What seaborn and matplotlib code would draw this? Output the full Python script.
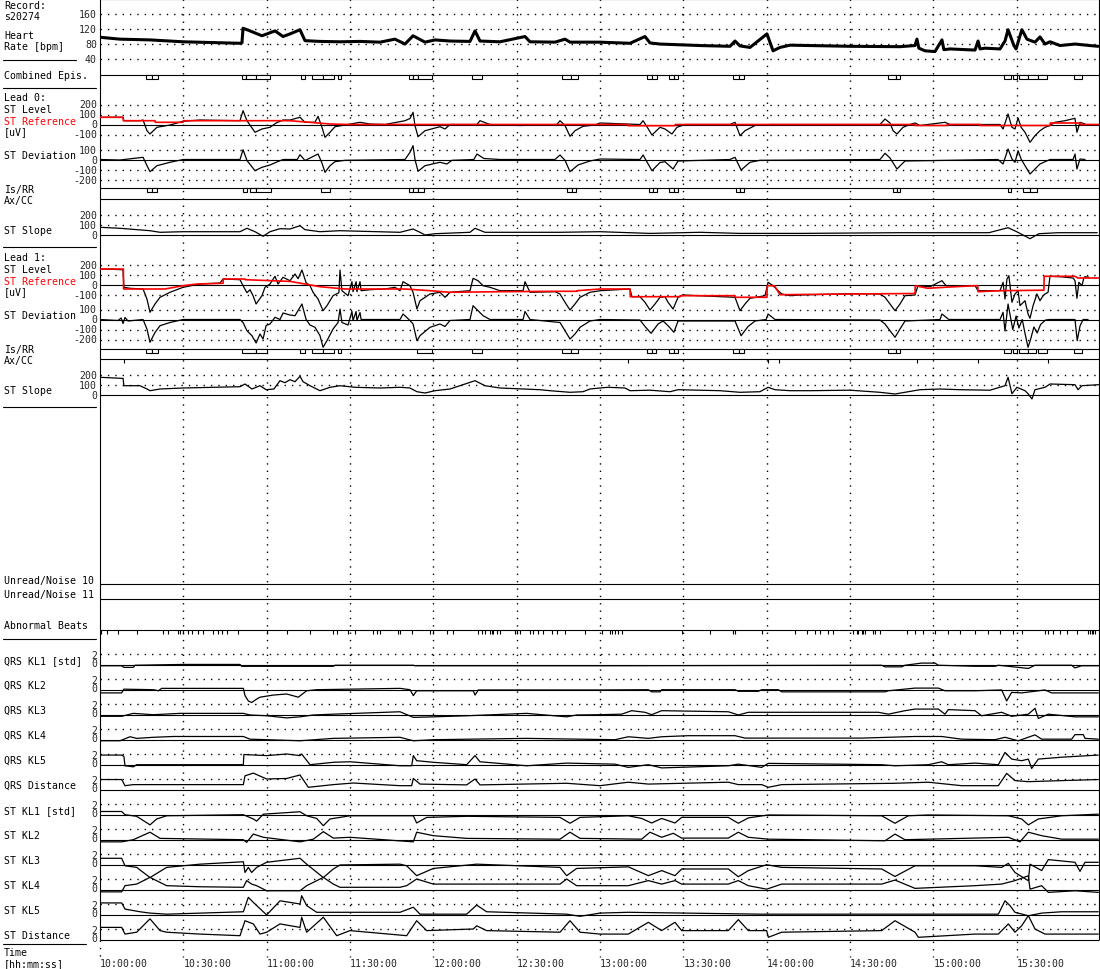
import matplotlib
matplotlib.use("Agg")
import matplotlib.pyplot as plt
import matplotlib.transforms as mtransforms
from matplotlib.lines import Line2D
from matplotlib.patches import Rectangle
import numpy as np
import seaborn as sns

# ──────────────────────────────────────────────────────────────────────────────
# Datos (tiempo en minutos desde las 10:00:00)
# ──────────────────────────────────────────────────────────────────────────────
RECORD = "s20274"
T_END = 359.64
TIME_TICKS = [0, 30, 60, 90, 120, 150, 180, 210, 240, 270, 300, 330]
TIME_LABELS = ["10:00:00", "10:30:00", "11:00:00", "11:30:00", "12:00:00", "12:30:00",
               "13:00:00", "13:30:00", "14:00:00", "14:30:00", "15:00:00", "15:30:00"]

hr_t = [0, 7.2, 18, 29.9, 50.4, 51.1, 51.5, 54, 58.3, 63, 65.9, 68.4, 72, 73.8, 79.2, 86.4,
        93.6, 100.8, 106.2, 109.8, 112.7, 117, 120.6, 126, 133.2, 135, 136.8, 144, 153, 154.8,
        163.8, 167.4, 169.2, 180, 190.8, 196.2, 198, 201.6, 216, 226.8, 228.6, 230.4, 234,
        240.1, 242.3, 244.8, 248.4, 255.6, 270, 288, 293.4, 294.1, 294.8, 297, 300.6, 303.1,
        303.8, 306, 315, 316.1, 316.8, 318.6, 324, 325.8, 326.9, 329, 329.8, 331.2, 331.9,
        333.7, 336.6, 338.4, 340.2, 342, 345.6, 351, 356.4, 359.3]
hr_v = [99, 94, 92, 87, 83, 84, 123, 116, 103, 116, 101, 108, 119, 90, 88, 87,
        88, 86, 94, 81, 103, 86, 92, 89, 88, 116, 89, 87, 101, 87,
        86, 94, 86, 86, 83, 101, 84, 81, 77, 75, 89, 76, 72,
        108, 63, 72, 78, 77, 75, 74, 77, 94, 70, 63, 61, 92,
        66, 68, 65, 89, 68, 70, 68, 89, 119, 77, 68, 103, 119,
        94, 86, 100, 81, 87, 77, 81, 77, 75]

combined_epis = [(16.6, 18.7), (18.7, 20.9), (51.1, 52.6), (52.6, 56.2), (56.2, 61.2),
                 (72.4, 73.8), (76.3, 80.3), (80.3, 84.2), (85.7, 86.8), (111.2, 112.7),
                 (112.7, 114.5), (114.5, 119.5), (133.9, 137.5), (166.3, 169.6), (169.6, 172.1),
                 (196.9, 198.7), (198.7, 200.5), (204.8, 206.6), (206.6, 208.1), (227.9, 230),
                 (230, 231.8), (283.7, 286.6), (286.6, 288), (325.4, 328), (328.7, 330.1),
                 (330.8, 334.1), (334.1, 337.7), (337.7, 340.9), (350.6, 353.5)]

# Lead 0
l0_level_t = [0, 8.3, 8.6, 14.4, 15.5, 16.9, 18, 20.5, 25.2, 29.9, 36, 50.4, 51.5, 52.9, 55.8,
              58.3, 61.2, 63.4, 65.9, 68.4, 72, 73.8, 77.4, 78.5, 79.9, 81, 82.8, 84.6, 88.2,
              93.6, 97.2, 102.6, 109.8, 111.6, 112.7, 113.4, 114.5, 117, 122.4, 124.2, 126,
              135.7, 136.8, 140.4, 151.2, 164.5, 165.6, 167.4, 169.2, 171, 173.9, 178.2, 180,
              194.4, 195.5, 197.3, 198.7, 201.6, 203.4, 205.9, 207.7, 210.6, 226.8, 228.6,
              229.7, 230.4, 232.2, 235.8, 241.2, 280.8, 282.6, 284.4, 285.5, 286.9, 289.1,
              291.6, 293.4, 295.2, 304.2, 306, 324, 325.1, 326.9, 328.3, 329.4, 330.5, 331.6,
              333, 334.8, 336.6, 338.4, 340.2, 342, 343.8, 347.4, 351, 351.7, 352.8, 354.6]
l0_level_v = [72, 72, 38, 38, 45, -62, -95, -28, -5, 32, 45, 38, 138, 38, -78,
              -45, -28, 15, 45, 45, 72, 22, 22, 82, -28, -128, -78, -22, -5,
              22, 5, 0, 38, 60, 122, -12, -122, -62, -22, -45, 0,
              0, 38, 0, -10, 0, 38, -10, -118, -62, -18, -5, 15,
              0, 38, -40, -105, -28, -45, -95, -28, 0, 0, 22,
              -60, -112, -62, -10, 0, 0, 55, 15, -62, -95, -28,
              0, 15, -10, 22, 0, 0, -45, 105, -28, -45, 65, -28,
              -78, -178, -112, -62, -28, -10, 22, 38, 62, -78, 22, 5]
l0_ref_t = [0, 8.3, 8.4, 19.8, 19.9, 29.9, 30, 68.4, 82.8, 90, 190, 190.1, 207, 207.1,
            293.4, 293.5, 305, 305.1, 316.8, 316.9, 342, 342.1, 352.8, 352.9, 359.6]
l0_ref_v = [72, 72, 38, 38, 22, 22, 38, 38, 5, 0, 0, -12, -12, 0,
            0, -10, -10, 0, 0, -10, -10, 15, 15, 0, 0]
l0_dev_t = [0, 7.2, 15.5, 16.9, 18, 20.5, 25.2, 29.9, 50.4, 51.5, 52.9, 55.8, 58.3, 61.2,
            63.4, 65.9, 71, 72, 73.8, 78.5, 79.9, 81, 82.8, 84.6, 88.2, 109.8, 111.6, 112.7,
            113.4, 114.5, 117, 122.4, 124.9, 126.7, 134.6, 135.7, 138.2, 144, 163.8, 165.6,
            167.4, 169.2, 172.1, 176.4, 180, 194.4, 195.5, 198.7, 201.6, 203.4, 206.3, 208.1,
            226.8, 228.6, 230.8, 234, 237.6, 280.8, 282.6, 284.4, 286.9, 289.8, 323.3, 325.1,
            326.9, 328.3, 329.4, 330.5, 331.6, 333, 334.8, 336.6, 338.4, 340.2, 342, 350.3,
            351, 351.7, 352.8, 354.6]
l0_dev_v = [0, -5, 22, -60, -122, -62, -28, 0, 0, 98, -10, -112, -78, -55,
            -28, 0, 0, 48, -10, 55, -35, -128, -62, -22, -8, 0, 72, 138,
            0, -118, -62, -28, -45, -8, 0, 55, 10, 0, 0, 45,
            -8, -122, -55, -15, 5, 0, 45, -112, -30, -22, -95, -15,
            0, 22, -105, -28, -8, 0, 62, 15, -95, -15, 0, -45,
            105, 5, -28, 88, 5, -62, -145, -95, -45, -22, 0, 0,
            55, -95, 5, 0]
l0_slope_t = [0, 7.2, 18, 21.6, 29.9, 50.4, 52.9, 55.8, 58.7, 61.2, 64.8, 68.4, 72, 73.8,
              79.2, 86.4, 108, 112.7, 115.2, 117, 120.6, 133.2, 135, 138.6, 165.6, 180, 198,
              216, 230.4, 252, 288, 320, 326.9, 330, 334.8, 338, 345, 359]
l0_slope_v = [74, 64, 40, 24, 30, 30, 64, 30, -16, 30, 60, 57, 90, 50,
              30, 40, 24, 57, 24, -3, 10, 24, 64, 24, 24, 30, 13,
              24, 13, 13, 20, 20, 70, 30, -40, 10, 20, 20]
l0_isrr = [(16.9, 18.7), (18.7, 20.5), (51.5, 52.9), (54, 56.2), (56.2, 61.6), (79.6, 82.8),
           (111.2, 112.7), (112.7, 114.5), (114.5, 116.6), (168.1, 169.9), (169.9, 171.4),
           (197.6, 199.1), (199.1, 200.5), (204.8, 206.6), (206.6, 208.1), (229, 230.4),
           (230.4, 231.8), (285.5, 286.9), (286.9, 288), (326.9, 328), (332.3, 334.8),
           (334.8, 337.3)]

# Lead 1
l1_level_t = [0, 8.3, 8.6, 10.8, 15.5, 16.9, 18, 19.8, 21.6, 25.2, 29.9, 36, 43.2, 44.3,
              50.4, 51.5, 52.9, 54, 55.1, 56.2, 58.3, 59.4, 61.2, 63, 64.1, 65.9, 68.4, 70.2,
              71.3, 72.7, 74.2, 75.6, 76.7, 78.5, 80.3, 81.7, 83.9, 86, 86.4, 87.1, 89.3,
              90.7, 91.1, 92.2, 92.5, 93.6, 94, 97.2, 102.6, 106.2, 108, 109.1, 111.6, 112.7,
              114.1, 115.2, 118.8, 122.4, 124.2, 126, 133.2, 134.3, 136.1, 137.9, 140.4, 144,
              152.3, 153, 154.8, 163.8, 165.6, 167.4, 169.2, 171, 172.8, 176.4, 180, 190.8,
              191.5, 194.4, 196.2, 198, 199.8, 201.6, 203.4, 204.5, 206.3, 208.1, 209.9, 228.6,
              230.4, 232.2, 234, 239.4, 240.5, 242.3, 244.1, 245.5, 248.4, 252, 270, 280.8,
              282.6, 284.4, 286.2, 288, 289.8, 293.4, 294.5, 298.8, 303.1, 304.6, 315, 316.1,
              324, 325.1, 325.8, 326.5, 327.2, 328.3, 329.4, 330.5, 331.2, 333, 334.1, 334.8,
              335.9, 337.3, 338.4, 339.5, 340.2, 341.3, 342, 345.6, 350.3, 351, 351.7, 352.4,
              353.5, 354.2, 354.6, 356]
l1_level_v = [157, 150, -26, -36, -43, -143, -276, -193, -126, -76, -26, 7, 17, 57,
              50, -10, -80, -50, -110, -193, -110, -26, 7, 84, 7, 74, 40, 107,
              60, 147, 20, -10, -76, -143, -260, -210, -110, -80, 147, -60, -110,
              30, -70, 30, -70, 30, -60, -50, -43, -26, -60, 30, -10, -76,
              -243, -160, -93, -76, -126, -76, -60, 64, 40, -10, -26, -60,
              -60, 30, -76, -70, -93, -176, -253, -193, -126, -76, -60, -43,
              -120, -120, -176, -253, -193, -126, -120, -176, -243, -126, -103, -126,
              -260, -193, -136, -110, 24, -10, -60, -93, -110, -103, -90, -93,
              -126, -193, -260, -193, -110, -103, -10, -20, 40, -10, -10, -60,
              -60, 24, -143, 57, 90, -176, -93, -60, -210, -160, -293, -336,
              -210, -93, -160, -110, -93, -76, 84, 80, 67, 40, -136, 24,
              -10, 70, 80, 75]
l1_ref_t = [0, 8.4, 8.5, 23.4, 29.9, 35, 44.3, 44.4, 52.2, 52.3, 68.4, 73.8, 79.2, 88.2,
            109.8, 118.8, 126, 144, 163.8, 171.7, 171.8, 180, 190.8, 190.9, 208.8, 208.9,
            228.6, 228.7, 240.1, 240.2, 242.8, 244.8, 270, 293.4, 293.5, 298, 304, 315,
            316, 316.1, 324, 339.8, 339.9, 351, 352, 359.6]
l1_ref_v = [157, 157, -43, -43, -10, 7, 14, 57, 57, 50, 33, 7, -20, -43,
            -43, -60, -76, -70, -66, -66, -60, -43, -43, -120, -120, -110,
            -110, -126, -126, -10, -10, -100, -93, -88, -10, -36, -26, -10,
            -10, -70, -60, -55, 84, 84, 67, 67]
l1_dev_t = [0, 6.5, 7.6, 8.3, 9, 10.1, 15.5, 16.9, 18, 19.8, 21.6, 25.2, 29.9, 50.4, 51.5,
            52.9, 54.7, 56.2, 57.6, 58.7, 59.8, 61.2, 63, 64.8, 65.9, 68.4, 70.2, 72.7, 74.2,
            75.6, 77.4, 79.2, 80.3, 81.7, 83.9, 85.7, 86.4, 87.1, 89.3, 90.7, 91.1, 92.2,
            92.5, 93.6, 94, 108, 109.1, 111.6, 112.7, 114.1, 115.2, 118.8, 122.4, 124.2, 126,
            133.2, 134.3, 136.1, 137.9, 140.4, 152.3, 153, 154.8, 165.6, 167.4, 169.2, 171,
            172.8, 176.4, 180, 194.4, 196.2, 198.4, 200.9, 202.7, 204.5, 206.6, 208.1, 228.6,
            230.8, 233.3, 235.8, 239.8, 240.5, 243, 280.8, 282.6, 284.4, 286.2, 288, 289.8,
            302.4, 303.1, 305.6, 324, 325.1, 325.8, 326.9, 328.6, 329.8, 330.8, 332, 333.2,
            334.1, 335, 336.2, 337.4, 338.6, 340.4, 342, 351, 351.8, 352.8, 353.9, 355.7]
l1_dev_v = [0, -10, 15, -40, 20, -15, 0, -95, -228, -130, -62, -30, 0, 0, -30,
            -112, -162, -235, -145, -195, -60, -45, 22, 0, 65, 45, 38, 155, 0,
            -55, -78, -162, -278, -212, -95, -30, 105, -30, -55, 80, -10, 80,
            -10, 70, 0, 0, 55, -10, -45, -212, -162, -78, -45, -70, -10,
            0, 138, 88, 38, 0, 0, 80, 0, -30, -112, -195, -145,
            -78, -15, 0, -5, -70, -138, -45, -15, -62, -128, -15, -15,
            -162, -70, -15, 0, 55, 0, -5, -45, -112, -178, -95, -15,
            0, 55, 0, 0, 72, -116, 155, -100, 35, -85, 0, -165,
            -278, -200, -75, -135, -50, -5, 0, 0, -212, -65, 0, 0]
l1_slope_t = [0, 8.3, 8.6, 14.4, 16.9, 18, 21.6, 29.9, 50.4, 52.2, 54.7, 57.6, 59.8, 62.6,
              64.8, 66.6, 68.4, 70.2, 72, 73.1, 75.6, 79.2, 82.8, 86.4, 91.8, 100.8, 108,
              111.6, 114.1, 117, 120.6, 126, 135, 138.6, 144, 158.4, 162, 169.2, 173.9, 176.4,
              180, 182.9, 189, 190.8, 198, 205.2, 208.1, 223.2, 230.4, 237.6, 240.5, 243,
              248.4, 255.6, 270, 280.8, 286.2, 295.2, 302.4, 309.6, 320.4, 325.8, 326.9,
              328.3, 330.1, 333, 334.1, 335.5, 336.6, 340.2, 342, 351, 352.1, 353.5, 359.5]
l1_slope_v = [174, 163, 90, 90, 57, 40, 57, 67, 80, 107, 57, 90, 50, 57,
              140, 120, 150, 130, 184, 130, 90, 40, 74, 90, 74, 67, 74,
              67, 30, 17, 40, 57, 140, 90, 67, 50, 40, 24, 30, 57,
              67, 74, 67, 40, 45, 30, 50, 40, 24, 30, 74, 50,
              40, 40, 45, 24, 7, 50, 57, 50, 45, 90, 174,
              10, 74, 40, 10, -43, 50, 74, 107, 100, 50, 90, 100]
l1_isrr = [(16.6, 18.7), (18.7, 20.9), (51.1, 56.2), (56.2, 60.1), (72, 73.8), (76.3, 80.3),
           (80.3, 84.2), (85.7, 86.8), (114.1, 119.5), (133.9, 137.5), (166.3, 169.6),
           (169.6, 172.1), (196.9, 198.7), (198.7, 200.2), (204.8, 206.6), (206.6, 208.1),
           (227.9, 230), (230, 231.8), (283.7, 286.6), (286.6, 288), (325.4, 328),
           (328.7, 330.1), (330.8, 334.1), (334.1, 337), (337.7, 340.9), (350.6, 353.5)]
l1_axcc = [8.6, 190.1, 240.5, 244.4, 294.1, 316.1, 341.3]

abnormal_beats = [0.4, 2.5, 6.5, 13.3, 22.7, 24.5, 28.1, 28.8, 29.9, 31.7, 33.1, 35.3, 37.1,
                  40.7, 42.5, 43.9, 45.7, 49.7, 60.1, 67.3, 75.6, 83.9, 85.3, 89.3, 91.8,
                  98.3, 99.7, 100.8, 107.3, 108, 112.3, 118.8, 119.9, 124.9, 127.1, 136.1,
                  137.5, 138.6, 140.4, 141.1, 141.5, 142.9, 144, 149.4, 150.1, 151.2, 154.8,
                  155.9, 157.7, 159.5, 162.7, 164.5, 167.4, 174.6, 180.7, 183.6, 184.3, 185.4,
                  186.5, 187.9, 209.5, 219.6, 227.9, 228.6, 238.3, 250.2, 254.5, 257.4, 259.2,
                  262.1, 263.9, 271.1, 272.5, 272.9, 274.3, 274.7, 275.4, 278.3, 279, 280.8,
                  290.5, 293.4, 296.3, 300.6, 305.3, 309.6, 315, 319.7, 324, 328.7, 331.9,
                  340.2, 341.3, 343.1, 345.6, 348.1, 351.7, 355.7, 356.4, 357.1, 357.5, 358.2]

# Karhunen-Loève coefficients [std]
qrs_kl1_t = [0, 7.8, 8.6, 12, 12.6, 30, 50.4, 51, 84, 84.6, 112.8, 113.4, 180, 281.4, 282.6,
             288.6, 289.8, 295.8, 300.6, 301.8, 315, 322.2, 323.4, 334.2, 336.6, 349.8, 351,
             353.4, 359.4]
qrs_kl1_v = [-0.2, -0.2, -0.5, -0.5, -0.1, 0.05, 0.05, -0.3, -0.3, -0.1, -0.1, -0.2, -0.2,
             -0.1, -0.4, -0.4, -0.1, 0.3, 0.3, -0.1, -0.3, -0.3, -0.1, -0.7, -0.1, -0.1, -0.6,
             -0.2, -0.2]
qrs_kl2_t = [0, 7.8, 8.6, 19.2, 21, 22.2, 51.6, 52.2, 53.4, 54.6, 56.4, 57.6, 62.4, 67.2,
             71.4, 74.4, 78, 108, 111.6, 112.8, 114, 134.4, 135, 136.2, 180, 197.4, 198.6,
             201.6, 202.2, 228.6, 229.8, 237, 238.2, 244.2, 245.4, 282.6, 283.8, 293.4, 301.8,
             304.2, 315, 324.6, 326.4, 328.2, 331.8, 340.2, 342.6, 359.4]
qrs_kl2_v = [-0.6, -0.6, 0.1, 0, -0.2, 0.25, 0.25, -1.1, -2.1, -2.4, -1.75, -1.4, -1.0, -0.8,
             -1.4, -0.2, 0, 0.25, 0, -1.1, -0.2, -0.2, -1.0, -0.05, -0.05, 0, -0.4,
             -0.4, 0, 0, -0.3, -0.3, 0, 0, -0.4, -0.4, -0.2, 0.3, 0.3,
             -0.2, -0.2, -0.05, -2.1, -0.5, -0.6, -0.05, -0.6, -0.6]
qrs_kl3_t = [0, 7.8, 12, 19.2, 28.8, 51.6, 54, 60, 67.2, 72, 76.8, 84, 108, 112.8, 120, 132,
             153.6, 168, 171.6, 180, 187.8, 191.4, 196.2, 198.6, 202.2, 226.2, 229.8, 233.4,
             280.2, 283.8, 289.8, 293.4, 301.8, 304.2, 305.4, 315, 317.4, 324.6, 328.2, 334.2,
             336.6, 337.8, 341.4, 351, 359.4]
qrs_kl3_v = [-0.3, -0.3, 0.25, 0, 0.25, 0.25, -0.05, -0.2, -0.6, -0.4, -0.05, 0.1, 0.55, -0.5,
             -0.4, -0.2, 0.25, -0.4, -0.05, 0, 0.1, 0.75, 0.45, 0, 0.75, 0.55, -0.05, 0.45,
             0.45, 0.1, 0.75, 1.05, 1.05, 0.1, 0.95, 0.75, -0.2, 0.45, -0.3, 0.1,
             1.2, -0.7, 0.1, -0.4, -0.4]
qrs_kl4_t = [0, 7.2, 10.8, 13.2, 19.2, 26.4, 51.6, 54, 72, 84, 108, 112.8, 120, 153.6, 185.4,
             190.2, 197.4, 202.2, 211.8, 228.6, 232.2, 274.2, 293.4, 303, 310.2, 322.2, 325.8,
             330.6, 336.6, 339, 349.8, 351, 354, 354.6, 359.4]
qrs_kl4_v = [-0.2, -0.2, 0.55, 0.25, 0.45, 0.6, 0.6, 0.1, -0.2, 0.25, 0.45, -0.2, 0, 0.25, 0,
             0.55, 0.25, 0.55, 0.75, 0.75, 0.3, 0.3, 0.6, 0.6, 0.1, 0, 0.45,
             -0.2, 0.9, 0.1, 0.1, 0.95, 0.95, 0.25, 0.1]
qrs_kl5_t = [0, 7.8, 8.6, 9, 12, 13.2, 51.6, 51.8, 60, 67.2, 72, 72.6, 75.6, 84, 90, 96, 108,
             112.2, 112.8, 114, 120, 132, 135, 136.8, 153.6, 168, 185.4, 190.2, 197.4, 202.2,
             226.2, 229.8, 238.2, 240.6, 281.4, 286.2, 298.2, 303, 305.4, 315, 323.4, 325.8,
             328.2, 331.8, 334.2, 335.4, 337.8, 346.2, 359.4]
qrs_kl5_v = [1.8, 1.8, 1.55, -0.2, -0.4, 0, 0, 1.9, 1.7, 2.0, 1.7, 2.0, 0, 0.45, 0.55, 0.3, -0.2,
             -0.2, 1.7, 0.75, 0.45, 0, 1.7, 0.55, -0.2, 0.3, 0.1, -0.5, 0, -0.6,
             -0.2, 0.1, -0.5, 0.25, 0, -0.2, 0, 0.55, 0, 0.3, 0, 2.3,
             1.05, 0.75, 1.05, -0.7, 1.05, 1.4, 1.8]
qrs_dist_t = [0, 7.8, 9, 12, 51.6, 52.2, 55.2, 60, 67.2, 72, 75, 84, 91.2, 108, 112.2, 112.8,
              115.2, 132, 135, 136.8, 168, 180, 190.2, 197.4, 226.2, 229.8, 238.2, 240.6,
              245.4, 286.2, 298.2, 310.2, 323.4, 326.4, 329.4, 334.2, 346.2, 359.4]
qrs_dist_v = [1.9, 1.9, 0.75, 0.95, 0.95, 2.6, 3.1, 2.0, 2.1, 2.75, 0.45, 0.95, 1.25, 0.75,
              0.75, 2.1, 1.05, 0.9, 2.0, 0.9, 1.2, 0.75, 1.4, 1.05, 1.4, 0.95, 0.95, 0.45,
              0.95, 1.2, 1.4, 0.75, 0.75, 3.05, 1.7, 1.5, 1.7, 1.9]
st_kl1_t = [0, 7.8, 9, 13.2, 18, 20.4, 24, 51.6, 55.2, 56.4, 58.8, 72, 74.4, 78, 80.4, 82.8,
            90, 112.8, 114, 117.6, 132, 165.6, 169.2, 172.8, 190.2, 195, 198.6, 202.2, 207,
            209.4, 226.2, 229.8, 233.4, 240.6, 281.4, 286.2, 291, 298.2, 327, 331.8, 334.2,
            337.8, 346.2, 359.4]
st_kl1_v = [0.6, 0.6, 0, -0.3, -1.9, -0.8, -0.2, 0, -0.8, -1.2, 0.1, 0.55, -0.2, -0.7, -2.05,
            -0.8, -0.2, -0.2, -1.55, -0.5, -0.3, -0.5, -1.6, -0.5, -0.2, -0.7, -1.55, -0.7,
            -1.55, -0.5, -0.5, -1.6, -0.6, -0.05, -0.2, -1.6, -0.2, -0.05, -0.2, -0.8, -1.9,
            -0.8, -0.2, 0.1]
st_kl2_t = [0, 7.8, 12, 18, 21.6, 51.6, 52.8, 55.2, 58.8, 72, 76.8, 80.4, 84, 90, 112.8, 114,
            120, 132, 165.6, 169.2, 172.8, 195, 198, 202.2, 206.4, 209.4, 226.2, 229.8, 233.4,
            240.6, 282.6, 286.2, 289.8, 327, 331.2, 334.2, 339, 346.2, 359.4]
st_kl2_v = [-0.4, -0.4, 0, 1.4, 0.25, 0, -0.5, 1.05, 0.45, -0.4, 0.1, 1.5, 0.3, 0.45, -0.4,
            1.4, 0.75, 0.25, 0.1, 1.4, 0.25, 0.1, 1.4, 0.45, 1.2, 0.3, 0.3, 1.4, 0.45,
            0.1, -0.2, 1.05, 0, 0.45, -0.4, 1.4, 0.75, 0.1, 0.1]
st_kl3_t = [0, 7.8, 9, 13.2, 18, 24, 36, 51.6, 52.2, 53.4, 54.6, 56.4, 60, 72, 74.4, 80.4, 84,
            86.4, 108, 110.4, 114, 120, 135.6, 165.6, 168, 171.6, 190.2, 197.4, 202.2, 207,
            209.4, 226.2, 229.8, 233.4, 240, 245.4, 281.4, 286.2, 293.4, 315, 324.6, 327,
            329.4, 334.2, 334.8, 339, 341.4, 351, 352.8, 354.6, 359.4]
st_kl3_v = [1.2, 1.2, -0.2, -0.5, -2.4, -0.5, 0.1, 0.55, -1.45, -0.5, -1.45, -0.5, 0.45, 1.2,
            0.1, -2.4, -0.8, -0.05, 0.1, -0.2, -2.05, -0.7, 0.1, -0.5, -2.05, -0.7, -0.4,
            -2.05, -1.1, -2.05, -0.8, -0.8, -2.25, -1.1, 0, -0.5, -0.8, -2.2, -0.2, -0.2,
            -0.5, 0.25, -1.45, -3.0, 0.1, -1.1, 0.95, 0.45, -1.25, 0.45, 0.45]
st_kl4_t = [0, 7.8, 9, 13.2, 18, 24, 36, 51.6, 52.8, 54.6, 56.4, 60, 72, 74.4, 80.4, 84, 86.4,
            108, 110.4, 114, 120, 135.6, 165.6, 168, 171.6, 190.2, 197.4, 202.2, 207, 209.4,
            226.2, 229.8, 233.4, 240, 245.4, 281.4, 286.2, 293.4, 315, 324.6, 329.4, 334.2,
            334.8, 339, 341.4, 351, 359.4]
st_kl4_v = [-0.4, -0.4, 0.75, 1.05, 2.3, 0.75, 0.55, 0.45, 1.7, 1.05, 0.75, -0.2, -0.2, 0.75,
            2.3, 1.05, 0.45, 0.45, 0.75, 2.0, 1.05, 1.05, 1.05, 2.0, 0.75, 0.75, 1.7, 1.05,
            1.7, 1.05, 1.05, 1.7, 0.75, 0.1, 1.05, 1.05, 1.8, 0.25, 0.75, 1.05, 1.7, 2.6,
            0.1, 0.75, -0.5, -0.2, -0.5]
st_kl5_t = [0, 7.8, 9, 14.4, 18, 24, 51.6, 53.4, 55.2, 60, 64.8, 72, 72.6, 74.4, 78, 108,
            112.8, 115.2, 132, 135.6, 139.2, 168, 172.8, 180, 190.2, 238.2, 298.2, 323.4,
            325.8, 327.6, 329.4, 334.2, 339, 346.2, 359.4]
st_kl5_v = [2.2, 2.2, 1.05, 0.55, 0.3, 0.1, 0.55, 3.25, 2.3, -0.05, 2.6, 2.0, 3.55, 1.7, 0.45,
            0.45, 1.4, 0.1, 0.1, 1.8, 0.55, 0.1, -0.3, 0.3, 0.45, 0.1, 0.1, 0.1,
            2.6, 1.7, 0.45, -0.2, 0.3, 0.55, 0.55]
st_dist_t = [0, 7.8, 9, 13.2, 18, 21.6, 24, 36, 50.4, 52.2, 55.2, 57.6, 60, 64.8, 72, 72.6,
             74.4, 80.4, 85.2, 90, 110.4, 114, 117.6, 134.4, 135.6, 139.2, 165.6, 169.2, 172.8,
             180, 190.2, 197.4, 202.2, 207, 209.4, 226.2, 229.8, 233.4, 240, 240.6, 245.4,
             281.4, 286.2, 293.4, 294.6, 315, 323.4, 327, 329.4, 331.8, 334.2, 336.6, 340.2,
             359.4]
st_dist_v = [2.3, 2.3, 1.05, 1.4, 3.9, 1.7, 1.4, 1.05, 0.75, 3.55, 2.95, 1.05, 1.4, 2.95, 2.3,
             4.2, 1.4, 4.2, 0.75, 1.7, 0.75, 3.55, 1.7, 2.0, 2.6, 1.7, 1.4, 3.55, 1.4,
             1.05, 1.05, 3.25, 1.7, 3.25, 1.7, 1.7, 3.75, 1.7, 1.7, 0.45, 1.4,
             1.7, 3.55, 1.4, 0.45, 1.05, 1.05, 2.95, 1.4, 2.6, 4.5, 2.0, 1.05,
             1.05]

KL_NAMES = ["QRS KL1 [std]", "QRS KL2", "QRS KL3", "QRS KL4", "QRS KL5", "QRS Distance",
            "ST KL1 [std]", "ST KL2", "ST KL3", "ST KL4", "ST KL5", "ST Distance"]
KL_SERIES = [(qrs_kl1_t, qrs_kl1_v), (qrs_kl2_t, qrs_kl2_v), (qrs_kl3_t, qrs_kl3_v),
             (qrs_kl4_t, qrs_kl4_v), (qrs_kl5_t, qrs_kl5_v), (qrs_dist_t, qrs_dist_v),
             (st_kl1_t, st_kl1_v), (st_kl2_t, st_kl2_v), (st_kl3_t, st_kl3_v),
             (st_kl4_t, st_kl4_v), (st_kl5_t, st_kl5_v), (st_dist_t, st_dist_v)]

# ──────────────────────────────────────────────────────────────────────────────
# Disposición vertical (eje y en píxeles de la figura, 0 arriba)
# ──────────────────────────────────────────────────────────────────────────────
HR_ZERO, HR_SCALE = 75.5, 0.376
L0_LEVEL, L0_DEV, L0_ISRR, L0_AXCC, L0_SLOPE = 125.5, 160.5, 189.0, 200.0, 235.7
L1_LEVEL, L1_DEV, L1_ISRR, L1_AXCC, L1_SLOPE = 285.7, 320.5, 349.5, 360.0, 395.7
UV_SCALE = 0.1
NOISE10, NOISE11, ABN = 585.0, 600.0, 630.7
KL_ZERO0, KL_STEP, KL_SCALE = 665.7, 25.0, 5.35

DOT = (0, (1, 4.3))
RED = "#ff0000"

sns.set_style("white")
plt.rcParams["font.family"] = ["DejaVu Sans Mono", "DejaVu Sans"]
plt.rcParams["font.size"] = 7.1

fig = plt.figure(figsize=(11, 9.7), dpi=100)
ax = fig.add_axes([100 / 1100, 0, 999 / 1100, 1])
left = mtransforms.blended_transform_factory(fig.transFigure, ax.transData)


def trace(t, v, zero, scale, color="black", lw=0.9):
    y = zero - np.asarray(v, dtype=float) * scale
    sns.lineplot(x=t, y=y, ax=ax, color=color, lw=lw, estimator=None, sort=False)


def hline(y, dotted=False):
    ax.hlines(y, 0, T_END, colors="black", lw=1.0 if dotted else 0.8,
              linestyles=[DOT] if dotted else "solid", zorder=1)


def episodes(spans, y):
    for a, b in spans:
        ax.add_patch(Rectangle((a, y), b - a, 4, facecolor="white", edgecolor="black",
                               lw=0.8, zorder=3))


def label(y, s, color="black"):
    ax.text(4 / 1100, y, s, transform=left, ha="left", va="center", color=color, clip_on=False)


def ytick(y, s, **kw):
    ax.text(97 / 1100, y, s, transform=left, ha="right", va="center", clip_on=False, **kw)


def sep(y, x1=96):
    fig.add_artist(Line2D([3 / 1100, x1 / 1100], [y, y], transform=left, color="black", lw=0.8))


# ── Rejilla ───────────────────────────────────────────────────────────────────
ax.vlines(TIME_TICKS[1:], 0, 958, colors="black", lw=1.0, linestyles=[DOT], zorder=1)
ax.vlines([0], 940.7, 958, colors="black", lw=1.0, linestyles=[DOT], zorder=1, clip_on=False)
for v in [40, 80, 120, 160]:
    hline(HR_ZERO - v * HR_SCALE, dotted=True)
for zero_lvl, zero_dev, zero_sl in [(L0_LEVEL, L0_DEV, L0_SLOPE), (L1_LEVEL, L1_DEV, L1_SLOPE)]:
    for v in [200, 100, -100]:
        hline(zero_lvl - v * UV_SCALE, dotted=True)
    for v in [100, -100, -200]:
        hline(zero_dev - v * UV_SCALE, dotted=True)
    for v in [200, 100]:
        hline(zero_sl - v * UV_SCALE, dotted=True)
for i in range(len(KL_NAMES)):
    hline(KL_ZERO0 + i * KL_STEP - 2 * KL_SCALE, dotted=True)

for y in [HR_ZERO, L0_LEVEL, L0_DEV, L0_ISRR, L0_AXCC, L0_SLOPE,
          L1_LEVEL, L1_DEV, L1_ISRR, L1_AXCC, L1_SLOPE, NOISE10, NOISE11, ABN]:
    hline(y)
for i in range(len(KL_NAMES)):
    hline(KL_ZERO0 + i * KL_STEP)

# marco
ax.vlines([0, T_END], 0, KL_ZERO0 + 11 * KL_STEP, colors="black", lw=0.8, clip_on=False)
ax.hlines(0.4, 0, T_END, colors="black", lw=0.8, clip_on=False)

# ── Trazas ────────────────────────────────────────────────────────────────────
trace(hr_t, hr_v, HR_ZERO, HR_SCALE, lw=2.2)
episodes(combined_epis, HR_ZERO)

trace(l0_level_t, l0_level_v, L0_LEVEL, UV_SCALE)
trace(l0_ref_t, l0_ref_v, L0_LEVEL, UV_SCALE, color=RED, lw=1.2)
trace(l0_dev_t, l0_dev_v, L0_DEV, UV_SCALE)
trace(l0_slope_t, l0_slope_v, L0_SLOPE, UV_SCALE)
episodes(l0_isrr, L0_ISRR)

trace(l1_level_t, l1_level_v, L1_LEVEL, UV_SCALE)
trace(l1_ref_t, l1_ref_v, L1_LEVEL, UV_SCALE, color=RED, lw=1.2)
trace(l1_dev_t, l1_dev_v, L1_DEV, UV_SCALE)
trace(l1_slope_t, l1_slope_v, L1_SLOPE, UV_SCALE)
episodes(l1_isrr, L1_ISRR)
ax.vlines(l1_axcc, L1_AXCC, L1_AXCC + 4, colors="black", lw=0.8)

ax.vlines(abnormal_beats, ABN, ABN + 4, colors="black", lw=0.8)

for i, (t, v) in enumerate(KL_SERIES):
    trace(t, v, KL_ZERO0 + i * KL_STEP, KL_SCALE)

# ── Textos del margen izquierdo ───────────────────────────────────────────────
label(6, "Record:")
label(17, RECORD)
label(36, "Heart")
label(47, "Rate [bpm]")
sep(61, 76)
for v in [160, 120, 80, 40]:
    ytick(HR_ZERO - v * HR_SCALE, str(v))
label(76, "Combined Epis.")
sep(89)

for n, (lvl, dev, isrr, axcc, sl, top) in enumerate([
        (L0_LEVEL, L0_DEV, L0_ISRR, L0_AXCC, L0_SLOPE, 98),
        (L1_LEVEL, L1_DEV, L1_ISRR, L1_AXCC, L1_SLOPE, 258)]):
    label(top, f"Lead {n}:")
    label(top + 12, "ST Level")
    label(top + 24, "ST Reference", color=RED)
    label(top + 34, "[uV]")
    label(dev - 4.5, "ST Deviation")
    label(isrr + 1, "Is/RR")
    label(axcc + 1, "Ax/CC")
    label(sl - 5, "ST Slope")
    for v in [200, 100, 0, -100]:
        ytick(lvl - v * UV_SCALE, str(v))
    for v in [100, 0, -100, -200]:
        ytick(dev - v * UV_SCALE, str(v))
    for v in [200, 100, 0]:
        ytick(sl - v * UV_SCALE, str(v))
sep(248)
sep(408)

label(NOISE10 - 4, "Unread/Noise 10")
label(NOISE11 - 5, "Unread/Noise 11")
label(ABN - 5, "Abnormal Beats")
sep(640)

for i, name in enumerate(KL_NAMES):
    zero = KL_ZERO0 + i * KL_STEP
    label(zero - 4.5, name)
    # "2" y "0" apilados en un único texto, como en el original
    ytick(zero - KL_SCALE - 0.5, "2\n0", linespacing=0.72)
sep(945, 86)
label(953, "Time")
label(964, "[hh:mm:ss]")
for t, s in zip(TIME_TICKS, TIME_LABELS):
    ax.text(t, 964, s, ha="left", va="center", clip_on=False)

ax.set_xlim(0, T_END)
ax.set_ylim(970, 0)
ax.set_axis_off()

fig.savefig("out.png", dpi=100)
plt.close(fig)
